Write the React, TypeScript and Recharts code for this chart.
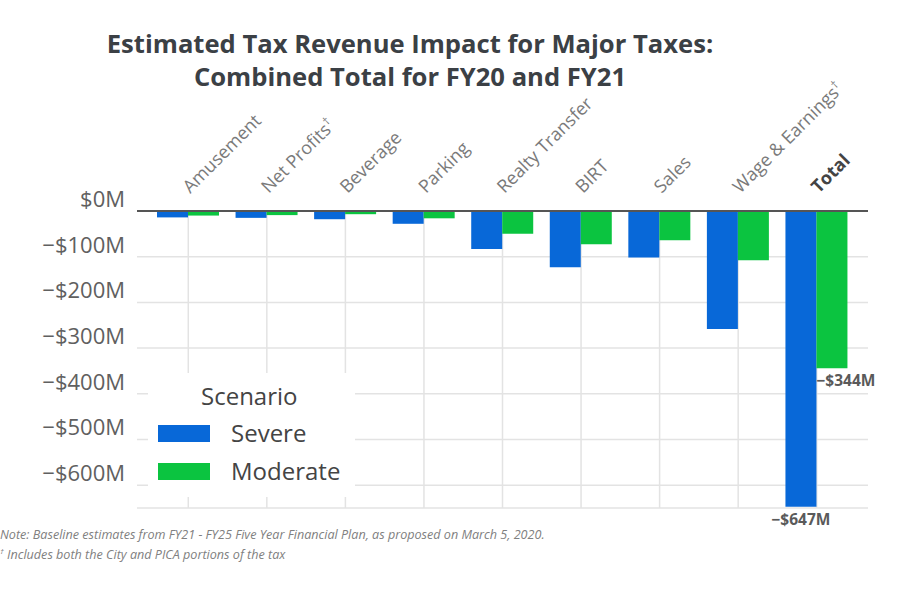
import React from "react";
import { BarChart, Bar, XAxis, YAxis, CartesianGrid, LabelList } from "recharts";

const categories = ["Amusement", "Net Profits†", "Beverage", "Parking", "Realty Transfer", "BIRT", "Sales", "Wage & Earnings†", "Total"];
const severe = [-14, -15, -18, -28, -83, -123, -102, -258, -647];
const moderate = [-10, -9, -7, -16, -50, -73, -64, -108, -344];
const yTicks = [0, -100, -200, -300, -400, -500, -600];

const BLUE = "#0868d8";
const GREEN = "#0bc440";
const FONT = "'Open Sans', 'Noto Sans', sans-serif";
const PAD = 12;

const data = categories.map((name, i) => ({ name, severe: severe[i], moderate: moderate[i] }));

const fmt = (v: number) => (v < 0 ? `\u2212$${Math.abs(v)}M` : `$${v}M`);

function XTick({ x, y, payload }: any) {
  const isTotal = payload.value === "Total";
  const label: string = payload.value;
  const dagger = label.endsWith("†");
  return (
    <g transform={`translate(${x + 2},${y - 15})`}>
      <text
        transform="rotate(-45)"
        textAnchor="start"
        fontSize={18}
        fontFamily={FONT}
        fontWeight={isTotal ? 700 : 400}
        fill={isTotal ? "#444" : "#7a7a7a"}
      >
        {dagger ? label.slice(0, -1) : label}
        {dagger && (
          <tspan fontSize={11} dy={-7}>
            †
          </tspan>
        )}
      </text>
    </g>
  );
}

function YTick({ x, y, payload }: any) {
  return (
    <text x={x - 10} y={y - 4} textAnchor="end" fontSize={22} fontFamily={FONT} fill="#606060">
      {fmt(payload.value)}
    </text>
  );
}

function totalLabel(mode: "middle" | "start") {
  return (props: any) => {
    const { x, y, width, height, value, index } = props;
    if (index !== categories.length - 1) return null;
    const bottom = Math.max(y, y + height);
    const tx = mode === "middle" ? x + width / 2 : x;
    return (
      <text x={tx} y={bottom + 18} textAnchor={mode} fontSize={15.5} fontWeight={700} fontFamily={FONT} fill="#5a5a5a">
        {fmt(value)}
      </text>
    );
  };
}

// vertical grid lines only at category centres (no lines on the plot edges)
const gridX = ({ offset }: any) => {
  if (!offset) return [];
  const band = (offset.width - 2 * PAD) / categories.length;
  return categories.map((_, i) => offset.left + PAD + band * (i + 0.5));
};

export default function App() {
  return (
    <div style={{ position: "absolute", left: 0, top: 0, width: 900, height: 600, background: "#fff", fontFamily: FONT }}>
      <div
        style={{
          position: "absolute",
          left: 0,
          top: 27,
          width: 820,
          textAlign: "center",
          fontSize: 25.6,
          fontWeight: 700,
          lineHeight: "33.4px",
          color: "#3b4045",
        }}
      >
        Estimated Tax Revenue Impact for Major Taxes:
        <br />
        Combined Total for FY20 and FY21
      </div>
      <BarChart
        width={900}
        height={600}
        data={data}
        margin={{ top: 111, right: 32, bottom: 92, left: 57 }}
        barCategoryGap={8}
        barGap={0}
      >
        <CartesianGrid stroke="#e3e3e3" strokeWidth={1.5} verticalCoordinatesGenerator={gridX} />
        <XAxis
          dataKey="name"
          orientation="top"
          height={100}
          padding={{ left: PAD, right: PAD }}
          tickLine={false}
          tickSize={0}
          axisLine={{ stroke: "#555", strokeWidth: 2 }}
          tick={<XTick />}
          interval={0}
        />
        <YAxis
          width={80}
          domain={[-650, 0]}
          ticks={yTicks}
          axisLine={false}
          tickLine={false}
          tickSize={0}
          tick={<YTick />}
        />
        <Bar dataKey="severe" fill={BLUE} isAnimationActive={false}>
          <LabelList dataKey="severe" content={totalLabel("middle")} />
        </Bar>
        <Bar dataKey="moderate" fill={GREEN} isAnimationActive={false}>
          <LabelList dataKey="moderate" content={totalLabel("start")} />
        </Bar>
      </BarChart>
      <svg
        width={207}
        height={124}
        style={{ position: "absolute", left: 148, top: 373, background: "#fff" }}
        fontFamily={FONT}
      >
        <text x={53} y={32} fontSize={24} fill="#444">
          Scenario
        </text>
        <rect x={10} y={52} width={52} height={17} fill={BLUE} />
        <text x={83} y={69} fontSize={24} fill="#444">
          Severe
        </text>
        <rect x={10} y={90} width={52} height={17} fill={GREEN} />
        <text x={83} y={107} fontSize={24} fill="#444">
          Moderate
        </text>
      </svg>
      <div
        style={{
          position: "absolute",
          left: 0,
          top: 527,
          fontSize: 12.6,
          fontStyle: "italic",
          color: "#808080",
          lineHeight: "16px",
        }}
      >
        Note: Baseline estimates from FY21 - FY25 Five Year Financial Plan, as proposed on March 5, 2020.
        <br />
        <sup style={{ fontSize: 8 }}>†</sup> Includes both the City and PICA portions of the tax
      </div>
    </div>
  );
}
